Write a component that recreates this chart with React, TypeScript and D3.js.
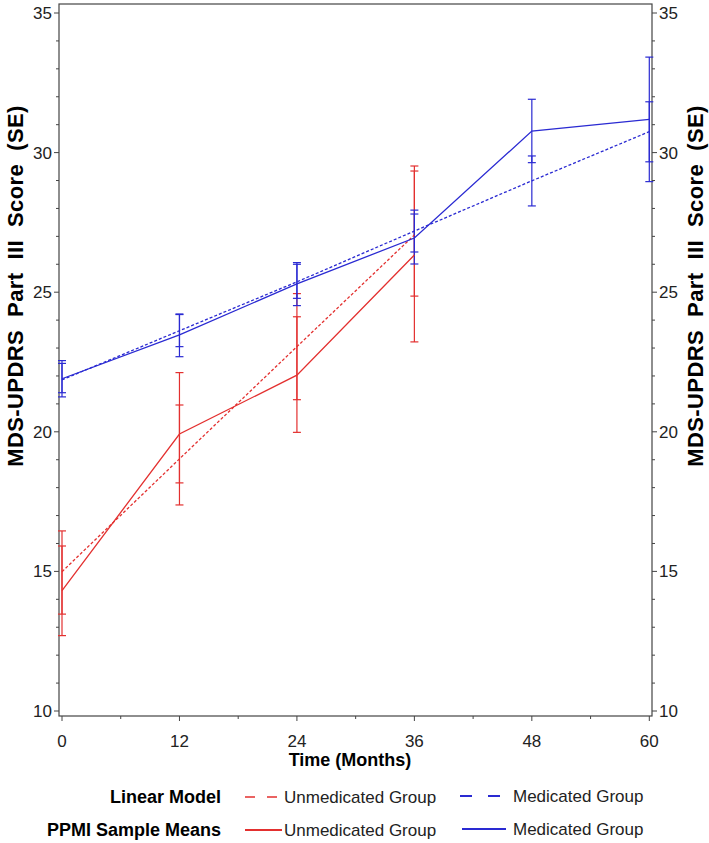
import React from "react";
import * as d3 from "d3";

const months = [0, 12, 24, 36, 48, 60];

// Unmedicated (red) – PPMI sample means
const unmedMean = [14.31, 19.92, 22.03, 26.33];
const unmedMeanLo = [12.7, 18.17, 19.98, 23.22];
const unmedMeanHi = [15.91, 22.12, 24.12, 29.52];
// Unmedicated – linear model
const unmedModel = [14.99, 19.03, 23.05, 27.05];
const unmedModelLo = [13.47, 17.38, 21.15, 24.86];
const unmedModelHi = [16.45, 20.96, 24.95, 29.34];

// Medicated (blue) – PPMI sample means
const medMean = [21.9, 23.47, 25.3, 26.94, 30.77, 31.19];
const medMeanLo = [21.25, 22.69, 24.52, 26.01, 29.64, 28.96];
const medMeanHi = [22.55, 24.22, 26.06, 27.8, 31.91, 33.42];
// Medicated – linear model
const medModel = [21.86, 23.62, 25.37, 27.19, 28.99, 30.75];
const medModelLo = [21.4, 23.05, 24.78, 26.44, 28.09, 29.67];
const medModelHi = [22.45, 24.2, 26.0, 27.94, 29.88, 31.82];

const yMajor = [10, 15, 20, 25, 30, 35];
const xMajor = [0, 12, 24, 36, 48, 60];

const RED = "#e3302f";
const BLUE = "#2a2ad2";
const AXIS = "#444";
const FONT = "'Liberation Sans', Arial, sans-serif";

type Series = { mean: number[]; lo: number[]; hi: number[]; color: string; dashed: boolean };

export default function App() {
  const W = 709, H = 843;
  const left = 59, right = 652, top = 4, bottom = 716;
  const x = d3.scaleLinear().domain([0, 60]).range([62, 649.3]);
  const y = d3.scaleLinear().domain([10, 35]).range([711, 13]);

  const series: Series[] = [
    { mean: unmedModel, lo: unmedModelLo, hi: unmedModelHi, color: RED, dashed: true },
    { mean: unmedMean, lo: unmedMeanLo, hi: unmedMeanHi, color: RED, dashed: false },
    { mean: medModel, lo: medModelLo, hi: medModelHi, color: BLUE, dashed: true },
    { mean: medMean, lo: medMeanLo, hi: medMeanHi, color: BLUE, dashed: false },
  ];

  const line = (vals: number[]) =>
    d3.line<number>().x((_, i) => x(months[i])).y((v) => y(v))(vals) || "";

  const yMinor = d3.range(10, 35.01, 1).filter((v) => v % 5 !== 0);
  const xMinor = d3.range(6, 60, 12);
  const cap = 4;

  const yTitle = "MDS-UPDRS  Part  III  Score  (SE)";

  return (
    <svg
      width={W}
      height={H}
      style={{ position: "absolute", left: 0, top: 0, background: "#fff" }}
      fontFamily={FONT}
    >
      {/* frame */}
      <rect x={left} y={top} width={right - left} height={bottom - top} fill="none" stroke={AXIS} strokeWidth={1.2} />

      {/* y ticks */}
      {yMajor.map((v) => (
        <g key={"ym" + v}>
          <line x1={left - 5} x2={left} y1={y(v)} y2={y(v)} stroke={AXIS} />
          <line x1={right} x2={right + 5} y1={y(v)} y2={y(v)} stroke={AXIS} />
          <text x={left - 7} y={y(v) + 6} textAnchor="end" fontSize={17} fill="#222">{v}</text>
          <text x={right + 7} y={y(v) + 6} textAnchor="start" fontSize={17} fill="#222">{v}</text>
        </g>
      ))}
      {yMinor.map((v) => (
        <g key={"yn" + v}>
          <line x1={left - 3} x2={left} y1={y(v)} y2={y(v)} stroke={AXIS} />
          <line x1={right} x2={right + 3} y1={y(v)} y2={y(v)} stroke={AXIS} />
        </g>
      ))}
      {/* x ticks */}
      {xMajor.map((v) => (
        <g key={"xm" + v}>
          <line x1={x(v)} x2={x(v)} y1={bottom} y2={bottom + 5} stroke={AXIS} />
          <text x={x(v)} y={bottom + 31} textAnchor="middle" fontSize={17} fill="#222">{v}</text>
        </g>
      ))}
      {xMinor.map((v) => (
        <line key={"xn" + v} x1={x(v)} x2={x(v)} y1={bottom} y2={bottom + 3} stroke={AXIS} />
      ))}

      {/* axis titles */}
      <text x={350} y={766} textAnchor="middle" fontSize={18} fontWeight="bold" fill="#000">Time (Months)</text>
      <text
        transform={`translate(23,286) rotate(-90)`}
        textAnchor="middle"
        fontSize={22}
        fontWeight="bold"
        letterSpacing={0.4}
        style={{ whiteSpace: "pre" }}
        fill="#000"
      >{yTitle}</text>
      <text
        transform={`translate(703,286) rotate(-90)`}
        textAnchor="middle"
        fontSize={22}
        fontWeight="bold"
        letterSpacing={0.4}
        style={{ whiteSpace: "pre" }}
        fill="#000"
      >{yTitle}</text>

      {/* error bars */}
      {series.map((s, si) =>
        s.mean.map((_, i) => {
          const cx = x(months[i]);
          return (
            <g key={`eb${si}-${i}`} stroke={s.color} strokeWidth={1.2}>
              <line x1={cx} x2={cx} y1={y(s.lo[i])} y2={y(s.hi[i])} />
              <line x1={cx - cap} x2={cx + cap} y1={y(s.lo[i])} y2={y(s.lo[i])} />
              <line x1={cx - cap} x2={cx + cap} y1={y(s.hi[i])} y2={y(s.hi[i])} />
            </g>
          );
        })
      )}

      {/* lines */}
      {series.map((s, si) => (
        <path
          key={"ln" + si}
          d={line(s.mean)}
          fill="none"
          stroke={s.color}
          strokeWidth={1.3}
          strokeDasharray={s.dashed ? "3,2" : undefined}
        />
      ))}

      {/* legend */}
      <g fontSize={17}>
        <text x={221} y={803} textAnchor="end" fontWeight="bold" fontSize={18} fill="#000">Linear Model</text>
        <line x1={245} x2={277} y1={797} y2={797} stroke={RED} strokeWidth={1.5} strokeDasharray="10,12" />
        <text x={284} y={803} fill="#222">Unmedicated Group</text>
        <line x1={460} x2={500} y1={796} y2={796} stroke={BLUE} strokeWidth={2} strokeDasharray="12,16" />
        <text x={513} y={802} fill="#222">Medicated Group</text>

        <text x={221} y={836} textAnchor="end" fontWeight="bold" fontSize={18} fill="#000">PPMI Sample Means</text>
        <line x1={245} x2={282} y1={830} y2={830} stroke={RED} strokeWidth={2} />
        <text x={284} y={836} fill="#222">Unmedicated Group</text>
        <line x1={462} x2={506} y1={829} y2={829} stroke={BLUE} strokeWidth={2} />
        <text x={513} y={835} fill="#222">Medicated Group</text>
      </g>
    </svg>
  );
}
